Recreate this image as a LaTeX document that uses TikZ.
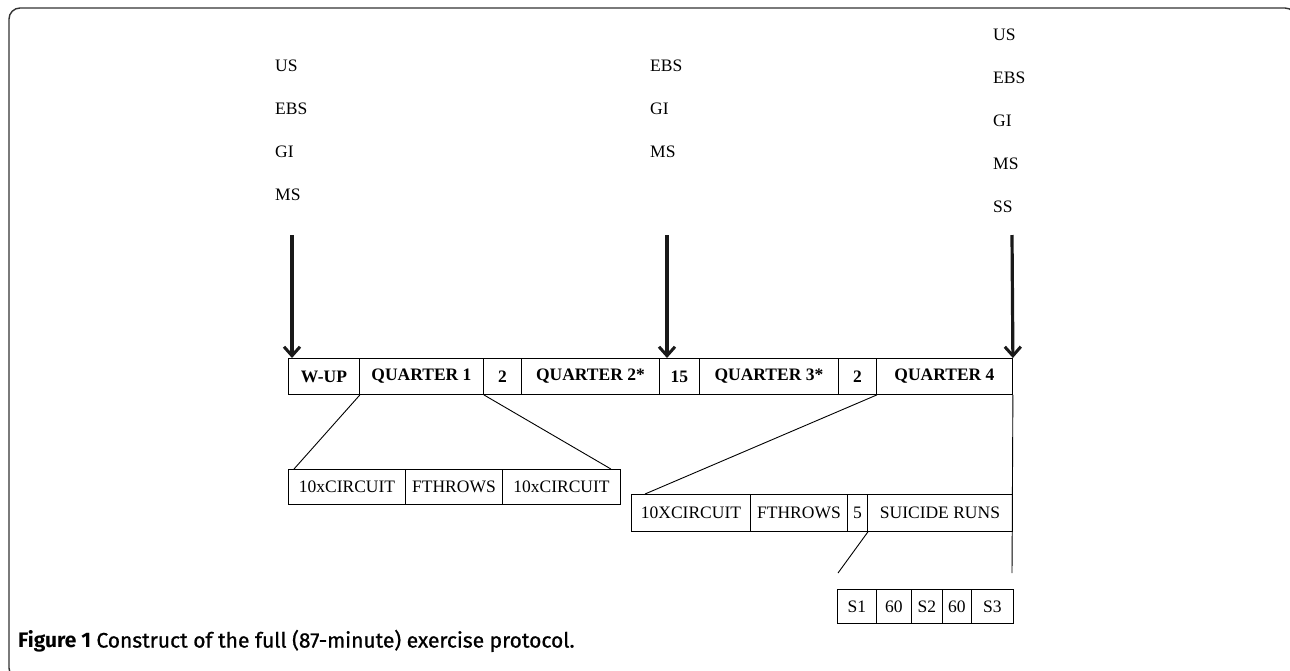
\documentclass[tikz,border=0pt]{standalone}
\usepackage{fontspec}
\setmainfont{Liberation Serif}
\newfontfamily\capfont{Fira Sans}
\newfontfamily\capmed{Fira Sans}[FakeBold=0.8]
\usetikzlibrary{arrows.meta,calc}
\tikzset{
  cell/.style={draw=black, line width=0.9pt, anchor=north west, inner sep=0pt, minimum height=#1, font=\fontsize{17.5}{20}\selectfont},
  bcell/.style={cell=36pt, font=\fontsize{17.5}{20}\selectfont\bfseries},
  lbl/.style={anchor=west, inner sep=0pt, font=\fontsize{17.5}{20}\selectfont},
  conn/.style={draw=black, line width=0.9pt},
  bigarrow/.style={draw=black!90, line width=3.2pt, -{Straight Barb[length=9pt,width=16pt,line width=3pt]}},
}
\begin{document}
\begin{tikzpicture}[x=1pt,y=-1pt]
\useasboundingbox (0,0) rectangle (1290,670);
\clip (0,0) rectangle (1290,670);
% frame
\draw[line width=1.4pt, black!80, rounded corners=11pt] (9,8) rectangle (1296,679);

% labels
\foreach \t/\y [count=\i] in {US/66,EBS/109,GI/152,MS/195} \node[lbl] (l\i) at (275,\y) {\t};
\foreach \t/\y [count=\i] in {EBS/66,GI/109,MS/152} \node[lbl] (m\i) at (650,\y) {\t};
\foreach \t/\y [count=\i] in {US/35,EBS/78,GI/121,MS/164,SS/207} \node[lbl] (r\i) at (993,\y) {\t};

% main bar
\node[bcell, minimum width=71pt]  (w)   at (288,358) {W-UP};
\node[bcell, minimum width=124pt] (q1)  at (359,358) {QUARTER 1};
\node[bcell, minimum width=38pt]  (b2)  at (483,358) {2};
\node[bcell, minimum width=138pt] (q2)  at (521,358) {QUARTER 2*};
\node[bcell, minimum width=40pt]  (b15) at (659,358) {15};
\node[bcell, minimum width=139pt] (q3)  at (699,358) {QUARTER 3*};
\node[bcell, minimum width=38pt]  (b2b) at (838,358) {2};
\node[bcell, minimum width=136pt] (q4)  at (876,358) {QUARTER 4};

% row 1
\node[cell=35pt, minimum width=117pt] (c1) at (288,469) {10xCIRCUIT};
\node[cell=35pt, minimum width=97pt]  (f1) at (405,469) {FTHROWS};
\node[cell=35pt, minimum width=118pt] (c2) at (502,469) {10xCIRCUIT};

% row 2
\node[cell=37pt, minimum width=119pt] (c3) at (631,494) {10XCIRCUIT};
\node[cell=37pt, minimum width=97pt]  (f2) at (750,494) {FTHROWS};
\node[cell=37pt, minimum width=20pt]  (five) at (847,494) {5};
\node[cell=37pt, minimum width=145pt] (sr) at (867,494) {SUICIDE RUNS};

% row 3
\node[cell=34pt, minimum width=39pt] (s1) at (837,589) {S1};
\node[cell=34pt, minimum width=35pt] (t1) at (876,589) {60};
\node[cell=34pt, minimum width=31pt] (s2) at (911,589) {S2};
\node[cell=34pt, minimum width=29pt] (t2) at (942,589) {60};
\node[cell=34pt, minimum width=42pt] (s3) at (971,589) {S3};

% connectors
\coordinate (v1) at (1012,573);
\coordinate (v2) at (838,573);
\draw[conn] (w.south east) -- ($(c1.north west)+(6,0)$);
\draw[conn] (q1.south east) -- ($(c2.north east)+(-10,0)$);
\draw[conn] (b2b.south east) -- ($(c3.north west)+(14,0)$);
\draw[conn] (q4.south east) -- (v1);
\draw[conn] (five.south east) -- (v2);

% arrows
\coordinate (a1) at (292,235);
\coordinate (a2) at (667,235);
\coordinate (a3) at (1012,235);
\draw[bigarrow] (a1) -- ($(w.north west)+(4,0)$);
\draw[bigarrow] (a2) -- ($(b15.north west)+(8,0)$);
\draw[bigarrow] (a3) -- (q4.north east);

% caption
\node[anchor=west, inner sep=0pt, font=\fontsize{21}{24}\selectfont] (cap) at (18,641) {{\capfont\bfseries Figure 1} {\capmed Construct of the full (87-minute) exercise protocol.}};
\end{tikzpicture}
\end{document}
